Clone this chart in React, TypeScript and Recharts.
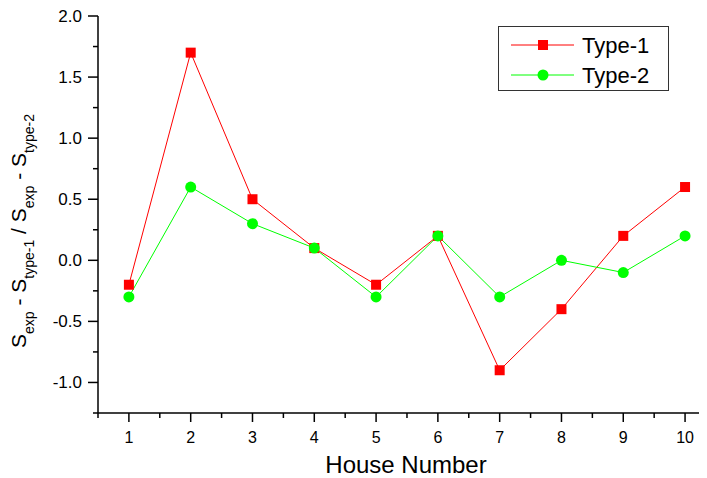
import React from 'react';
import { LineChart, Line, XAxis, YAxis, Legend } from 'recharts';

const houses = [1, 2, 3, 4, 5, 6, 7, 8, 9, 10];
const type1 = [-0.2, 1.7, 0.5, 0.1, -0.2, 0.2, -0.9, -0.4, 0.2, 0.6];
const type2 = [-0.3, 0.6, 0.3, 0.1, -0.3, 0.2, -0.3, 0.0, -0.1, 0.2];
const xTicks = [0.5, 1, 1.5, 2, 2.5, 3, 3.5, 4, 4.5, 5, 5.5, 6, 6.5, 7, 7.5, 8, 8.5, 9, 9.5, 10];
const yTicks = [-1.25, -1, -0.75, -0.5, -0.25, 0, 0.25, 0.5, 0.75, 1, 1.25, 1.5, 1.75, 2];
const seriesNames = ['Type-1', 'Type-2'];

const data = houses.map((h, i) => ({ x: h, t1: type1[i], t2: type2[i] }));

// body margin is 8px, so chart coords = page coords - 8
const OFF = 8;
const W = 707 - OFF;
const H = 478 - OFF;
const M = { top: 16 - OFF, right: 0, bottom: 35, left: 98 - OFF - 60 };
const XH = 30;
const YW = 60;
const AXIS_Y = H - M.bottom - XH;
const AXIS_X = M.left + YW;
const FONT = '"Liberation Sans", Arial, sans-serif';
const RED = '#ff0000';
const GREEN = '#00ff00';

const XTick = (props: any) => {
  const { x, payload } = props;
  const v = payload.value;
  const major = Number.isInteger(v);
  return (
    <g>
      <line x1={x} x2={x} y1={AXIS_Y} y2={AXIS_Y + (major ? 9 : 5)} stroke="#000" strokeWidth={1.5} />
      {major && (
        <text x={x} y={AXIS_Y + 30} textAnchor="middle" fontSize={16} fontFamily={FONT} fill="#000">
          {v}
        </text>
      )}
    </g>
  );
};

const YTick = (props: any) => {
  const { y, payload } = props;
  const v = payload.value;
  const major = Math.abs(v * 2 - Math.round(v * 2)) < 1e-9;
  return (
    <g>
      <line x1={AXIS_X} x2={AXIS_X - (major ? 10 : 5)} y1={y} y2={y} stroke="#000" strokeWidth={1.5} />
      {major && (
        <text x={AXIS_X - 16} y={y + 6} textAnchor="end" fontSize={17} fontFamily={FONT} fill="#000">
          {v.toFixed(1)}
        </text>
      )}
    </g>
  );
};

const SquareDot = (props: any) => {
  const { cx, cy, index } = props;
  if (cx == null || cy == null) return <g key={`s${index}`} />;
  return <rect key={`s${index}`} x={cx - 5} y={cy - 5} width={10} height={10} fill={RED} />;
};

const CircleDot = (props: any) => {
  const { cx, cy, index } = props;
  if (cx == null || cy == null) return <g key={`c${index}`} />;
  return <circle key={`c${index}`} cx={cx} cy={cy} r={5.5} fill={GREEN} />;
};

const YLabel = () => {
  const cx = 26 - OFF;
  const cy = 231 - OFF;
  const sub = { fontSize: 14 } as const;
  const d = 8;
  return (
    <text
      x={cx}
      y={cy}
      transform={`rotate(-90 ${cx} ${cy})`}
      textAnchor="middle"
      fontSize={21}
      fontFamily={FONT}
      fill="#000"
    >
      <tspan>S</tspan>
      <tspan dy={d} {...sub}>exp</tspan>
      <tspan dy={-d}> - S</tspan>
      <tspan dy={d} {...sub}>type-1</tspan>
      <tspan dy={-d}> / S</tspan>
      <tspan dy={d} {...sub}>exp</tspan>
      <tspan dy={-d}> - S</tspan>
      <tspan dy={d} {...sub}>type-2</tspan>
    </text>
  );
};

const XLabel = () => (
  <text x={406 - OFF} y={473 - OFF} textAnchor="middle" fontSize={24} fontFamily={FONT} fill="#000">
    House Number
  </text>
);

const LegendBox = () => (
  <div
    style={{
      width: 171,
      height: 65,
      border: '1px solid #333',
      background: '#fff',
      boxSizing: 'border-box',
      fontFamily: FONT,
      position: 'relative',
    }}
  >
    <svg width={169} height={63} style={{ position: 'absolute', left: 0, top: 0 }}>
      <line x1={12} x2={75} y1={18} y2={18} stroke={RED} strokeWidth={1} />
      <rect x={39} y={13} width={10} height={10} fill={RED} />
      <text x={83} y={26} fontSize={22} fontFamily={FONT} fill="#000">{seriesNames[0]}</text>
      <line x1={12} x2={75} y1={48} y2={48} stroke={GREEN} strokeWidth={1} />
      <circle cx={44} cy={48} r={5.5} fill={GREEN} />
      <text x={83} y={56} fontSize={22} fontFamily={FONT} fill="#000">{seriesNames[1]}</text>
    </svg>
  </div>
);

export default function App() {
  return (
    <div style={{ width: W, height: H, background: '#fff', position: 'relative' }}>
      <LineChart width={W} height={H} data={data} margin={M}>
        <XAxis
          type="number"
          dataKey="x"
          domain={[0.5, 10.355]}
          ticks={xTicks}
          allowDataOverflow
          interval={0}
          height={XH}
          tickLine={false}
          tick={<XTick />}
          axisLine={{ stroke: '#000', strokeWidth: 1.5 }}
          label={{ content: () => <XLabel /> }}
        />
        <YAxis
          type="number"
          domain={[-1.25, 2]}
          ticks={yTicks}
          allowDataOverflow
          interval={0}
          width={YW}
          tickLine={false}
          tick={<YTick />}
          axisLine={{ stroke: '#000', strokeWidth: 1.5 }}
          label={{ content: () => <YLabel /> }}
        />
        <Legend
          layout="vertical"
          align="center"
          verticalAlign="middle"
          content={() => <LegendBox />}
          wrapperStyle={{ position: 'absolute', left: 498 - OFF, top: 26 - OFF, width: 171, height: 65 }}
        />
        <Line
          type="linear"
          dataKey="t1"
          name={seriesNames[0]}
          stroke={RED}
          strokeWidth={1}
          dot={SquareDot}
          activeDot={false}
          isAnimationActive={false}
        />
        <Line
          type="linear"
          dataKey="t2"
          name={seriesNames[1]}
          stroke={GREEN}
          strokeWidth={1}
          dot={CircleDot}
          activeDot={false}
          isAnimationActive={false}
        />
      </LineChart>
    </div>
  );
}
